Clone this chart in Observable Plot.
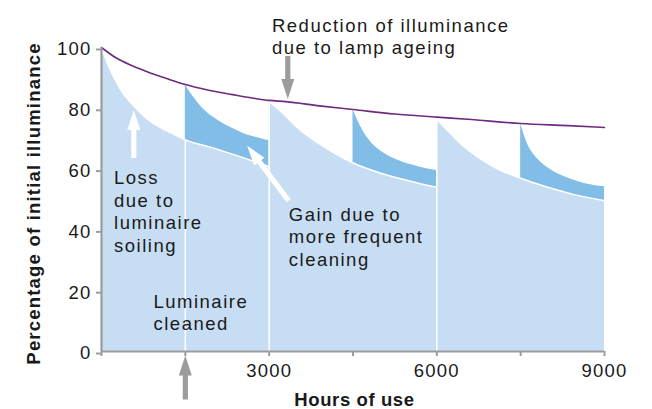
<!DOCTYPE html>
<html>
<head>
<meta charset="utf-8">
<script src="https://cdn.jsdelivr.net/npm/d3@7"></script>
<script src="https://cdn.jsdelivr.net/npm/@observablehq/plot@0.6"></script>
<style>
  html, body { margin: 0; padding: 0; background: #fff; }
  #chart svg text { font-family: 'Liberation Sans', Arial, Helvetica, sans-serif; }
  .ann text { letter-spacing: 1.5px; }
  .xtitle text { letter-spacing: 0.6px; }
  .ytitle text { letter-spacing: 1.2px; }
  g[aria-label="y-axis tick label"] text, g[aria-label="x-axis tick label"] text { letter-spacing: 1.2px; }
</style>
</head>
<body>
<div id="chart"></div>
<script>
// ---- Lamp lumen maintenance (reduction due to lamp ageing) ----
const lampHours  = [0, 250, 550, 850, 1150, 1500, 1900, 2350, 2700, 3000, 3300, 3900, 4500, 5250, 6000, 6550, 7500, 8350, 9000];
const lampValues = [100, 96.7, 94, 91.8, 89.9, 87.8, 86, 84.5, 83.4, 82.6, 82.2, 80.8, 79.6, 78.1, 77.1, 76.4, 75, 74.3, 73.7];

// ---- Illuminance with luminaire cleaned every 3000 h (light blue) ----
const light1Hours  = [0, 125, 245, 395, 545, 720, 930, 1140, 1345, 1500, 1915, 2330, 2690, 3000];
const light1Values = [100, 94.0, 89.3, 84.7, 81.4, 78.1, 75.0, 72.8, 71.0, 69.6, 67.4, 65.0, 62.8, 60.8];
const light2Hours  = [3000, 3225, 3465, 3765, 4060, 4500, 4955, 5490, 6000];
const light2Values = [82.2, 78.7, 74.3, 69.9, 66.4, 62.0, 58.9, 56.2, 54.0];
const light3Hours  = [6000, 6195, 6435, 6735, 7090, 7500, 7985, 8460, 9000];
const light3Values = [76.5, 72.6, 68.2, 63.9, 60.0, 57.0, 54.0, 51.6, 49.6];

// ---- Extra gain when cleaned every 1500 h (dark blue) ----
const dark1Hours  = [1500, 1675, 1855, 2095, 2330, 2570, 2810, 3000];
const dark1Values = [87.7, 83.0, 79.2, 75.9, 73.5, 71.5, 70.2, 69.3];
const dark2Hours  = [4500, 4630, 4775, 5015, 5315, 5670, 6000];
const dark2Values = [79.5, 74.3, 69.9, 65.7, 62.8, 60.8, 59.5];
const dark3Hours  = [7500, 7625, 7805, 8045, 8340, 8640, 9000];
const dark3Values = [74.8, 68.2, 63.3, 59.7, 57.1, 55.3, 54.2];

// ---- Cleaning moments (white separators) ----
const cleanHours  = [1500, 3000, 6000];
const cleanTops   = [69.6, 82.2, 76.5];

// ---- Ticks ----
const xTicks = [0, 1500, 3000, 4500, 6000, 7500, 9000];
const xTickLabels = ["", "", "3000", "", "6000", "", "9000"];
const yTicks = [0, 20, 40, 60, 80, 100];

// ---- Texts ----
const xTitle = "Hours of use";
const yTitle = "Percentage of initial illuminance";
const annTexts  = ["Reduction of illuminance\ndue to lamp ageing", "Loss\ndue to\nluminaire\nsoiling", "Gain due to\nmore frequent\ncleaning", "Luminaire\ncleaned"];
const annHours  = [3050, 224, 3351, 930];
const annValues = [110.5, 60.2, 48.2, 19.65];

// ---- Arrow tips ----
const arrowHours  = [3333, 578, 2607, 1500];
const arrowValues = [83.1, 79.4, 67.7, -1.3];

// ---- build tables ----
const seg = (hs, vs, name) => hs.map((h, i) => ({hours: h, value: vs[i], seg: name}));
const lampRows  = seg(lampHours, lampValues, "lamp");
const lightRows = [...seg(light1Hours, light1Values, "l1"), ...seg(light2Hours, light2Values, "l2"), ...seg(light3Hours, light3Values, "l3")];
const darkRows  = [...seg(dark1Hours, dark1Values, "d1"), ...seg(dark2Hours, dark2Values, "d2"), ...seg(dark3Hours, dark3Values, "d3")];
const cleanRows = cleanHours.map((h, i) => ({hours: h, top: cleanTops[i]}));
const annRows   = annTexts.map((t, i) => ({text: t, hours: annHours[i], value: annValues[i]}));
const arrowRows = arrowHours.map((h, i) => ({hours: h, value: arrowValues[i]}));
const xLabelMap = new Map(xTicks.map((t, i) => [t, xTickLabels[i]]));

const lightBlue = "#c7ddf3";
const darkBlue  = "#82bde7";
const purple    = "#6e2a7c";
const gray      = "#9c9c9c";
const ink       = "#1a1a1a";

const arrowShape = {
  draw(context, l) {
    const w = 2.6, hw = 6.5, hl = 20;
    context.moveTo(-w, 0);
    context.lineTo(-w, -l + hl);
    context.lineTo(-hw, -l + hl);
    context.lineTo(0, -l);
    context.lineTo(hw, -l + hl);
    context.lineTo(w, -l + hl);
    context.lineTo(w, 0);
    context.closePath();
  }
};
const arrowOpts = [
  {length: 43, rotate: 180, fill: gray},
  {length: 48, rotate: 0, fill: "white"},
  {length: 69, rotate: -37, fill: "white"},
  {length: 44, rotate: 0, fill: gray}
];

const chart = Plot.plot({
  width: 652,
  height: 409,
  marginLeft: 101,
  marginRight: 48,
  marginTop: 47,
  marginBottom: 58,
  style: {fontFamily: "'Liberation Sans', Arial, sans-serif", fontSize: "18.5px", color: ink, background: "white", overflow: "visible"},
  x: {domain: [0, 9000]},
  y: {domain: [0, 100]},
  marks: [
    Plot.areaY(darkRows, {x: "hours", y1: 0, y2: "value", z: "seg", fill: darkBlue, curve: "monotone-x"}),
    Plot.areaY(lightRows, {x: "hours", y1: 0, y2: "value", z: "seg", fill: lightBlue, curve: "monotone-x"}),
    Plot.line(lightRows, {x: "hours", y: "value", z: "seg", stroke: "white", strokeWidth: 1.5, curve: "monotone-x"}),
    Plot.ruleX(cleanRows, {x: "hours", y1: 0, y2: "top", stroke: "white", strokeWidth: 1.5}),
    Plot.line(lampRows, {x: "hours", y: "value", stroke: purple, strokeWidth: 1.6, curve: "monotone-x"}),
    Plot.ruleX([0], {stroke: gray, strokeWidth: 2.2}),
    Plot.ruleY([0], {stroke: gray, strokeWidth: 2.2}),
    Plot.axisY({ticks: yTicks, tickSize: 5, tickPadding: 5, stroke: gray, strokeWidth: 2, fill: ink, fontSize: 18.5, dy: 2, label: null}),
    Plot.axisX({ticks: xTicks, tickFormat: d => xLabelMap.get(d), tickSize: 5, tickPadding: 7.5, stroke: gray, strokeWidth: 2, fill: ink, fontSize: 18.5, label: null}),
    ...arrowOpts.map((o, i) => Plot.vector([arrowRows[i]], {x: "hours", y: "value", anchor: "end", shape: arrowShape, stroke: "none", strokeWidth: 0, ...o})),
    Plot.text(annRows, {x: "hours", y: "value", text: "text", textAnchor: "start", lineAnchor: "top", lineHeight: 1.216, fontSize: 18.5, fill: ink, className: "ann"}),
    Plot.text([xTitle], {text: d => d, frameAnchor: "bottom", dy: 49, dx: 1.5, textAnchor: "middle", lineAnchor: "middle", fontWeight: "bold", fontSize: 18.5, fill: ink, className: "xtitle"}),
    Plot.text([yTitle], {text: d => d, frameAnchor: "left", dx: -67, dy: 4, rotate: -90, textAnchor: "middle", lineAnchor: "middle", fontWeight: "bold", fontSize: 18.5, fill: ink, className: "ytitle"})
  ]
});
document.getElementById("chart").appendChild(chart);
</script>
</body>
</html>
